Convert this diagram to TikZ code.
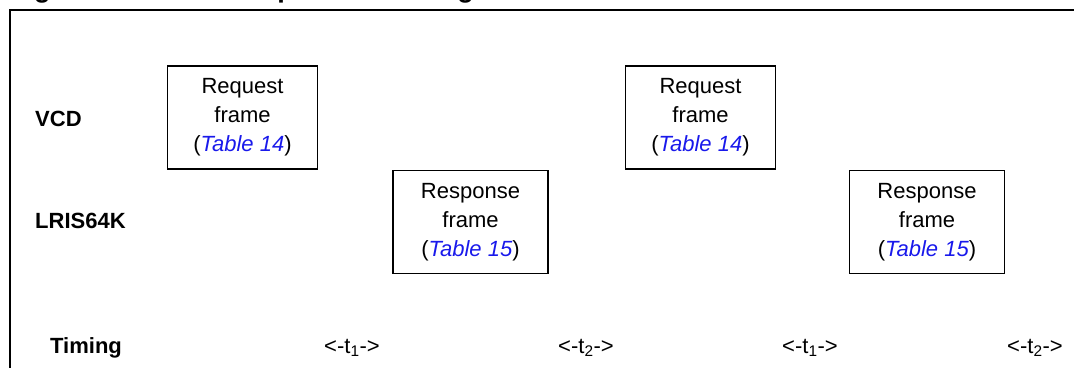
\documentclass[tikz,border=0pt]{standalone}
\usepackage{fontspec}
\setmainfont{Liberation Sans}
\usetikzlibrary{positioning}
\definecolor{tablink}{RGB}{25,25,235}
\tikzstyle{frame} = [rectangle, draw=black, line width=1.6pt, minimum width=150pt, minimum height=103pt, text centered, align=center, inner sep=0pt]
\tikzstyle{rowlabel} = [anchor=base west, inner sep=0pt, font=\fontsize{22}{29}\selectfont\bfseries]
\tikzstyle{gap} = [anchor=base, inner sep=0pt]
\newcommand{\tabref}[1]{(\textcolor{tablink}{\textit{Table #1}})}

\begin{document}
\begin{tikzpicture}[x=1pt, y=-1pt, every node/.style={font=\fontsize{22}{29}\selectfont}]
  \useasboundingbox (0,0) rectangle (1074,367);
  \clip (0,0) rectangle (1074,367);

  % caption, cut off at the top
  \node[anchor=base west, inner sep=0pt, font=\fontsize{27}{30}\selectfont\bfseries] (title) at (10,-3) {Figure 19.\hspace{21pt}LRIS64K protocol timing};
  \coordinate (c1) at (10,380);
  \coordinate (c2) at (10,10);
  \coordinate (c3) at (1090,10);
  \draw[line width=2pt] (c1) -- (c2) -- (c3);

  % rows
  \node[rowlabel] (vcd) at (35,126) {VCD};
  \node[rowlabel] (tag) at (35,228) {LRIS64K};
  \node[rowlabel] (timing) at (50,353) {Timing};

  % frames
  \node[frame] (req1) at (242.5,117.5) {Request\\frame\\\tabref{14}};
  \node[frame, minimum width=155pt] (resp1) at (470.5,222) {Response\\frame\\\tabref{15}};
  \node[frame] (req2) at (700.5,117.5) {Request\\frame\\\tabref{14}};
  \node[frame, minimum width=155pt] (resp2) at (927,222) {Response\\frame\\\tabref{15}};

  % delays
  \node[gap] (t1a) at (352,353) {<-t\textsubscript{1}->};
  \node[gap] (t2a) at (586,353) {<-t\textsubscript{2}->};
  \node[gap] (t1b) at (810,353) {<-t\textsubscript{1}->};
  \node[gap] (t2b) at (1035,353) {<-t\textsubscript{2}->};
\end{tikzpicture}
\end{document}
